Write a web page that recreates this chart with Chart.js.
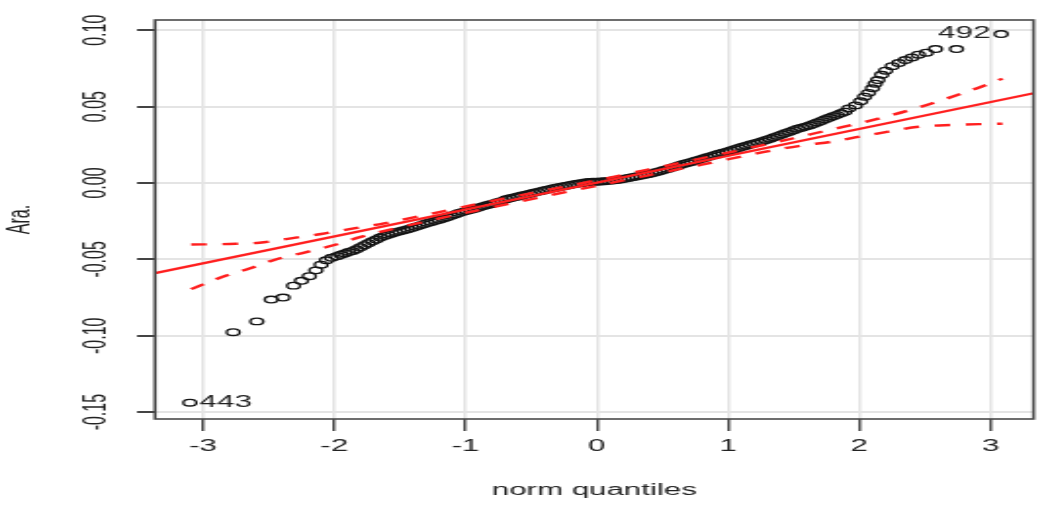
<!DOCTYPE html>
<html>
<head>
<meta charset="utf-8">
<script src="https://cdn.jsdelivr.net/npm/chart.js@4.4.1/dist/chart.umd.min.js"></script>
<style>
  html, body { margin: 0; padding: 0; background: #ffffff; overflow: hidden; }
  #c { display: block; width: 1044px !important; height: 520px !important; }
</style>
</head>
<body>
<canvas id="c" width="534" height="520" style="width:1044px;height:520px;"></canvas>
<script>
// ---- data ----
const xTicks = [-3, -2, -1, 0, 1, 2, 3];
const xTickLabels = ["-3", "-2", "-1", "0", "1", "2", "3"];
const yTicks = [-0.15, -0.10, -0.05, 0.00, 0.05, 0.10];
const yTickLabels = ["-0.15", "-0.10", "-0.05", "0.00", "0.05", "0.10"];
const xTitle = "norm quantiles";
const yTitle = "Ara.";

// sample points (theoretical quantile, observed value)
const qx = [
  -3.10, -2.77, -2.59, -2.48, -2.39, -2.31, -2.25, -2.19, -2.14, -2.10,
  -2.06, -2.02, -1.98, -1.95, -1.92, -1.89, -1.86, -1.83, -1.80, -1.77,
  -1.74, -1.71, -1.68, -1.65, -1.62, -1.59, -1.56, -1.53, -1.50, -1.47,
  -1.44, -1.41, -1.38, -1.35, -1.32, -1.29, -1.26, -1.23, -1.20, -1.17,
  -1.14, -1.11, -1.08, -1.05, -1.02, -0.99, -0.96, -0.93, -0.90, -0.87,
  -0.84, -0.81, -0.78, -0.75, -0.72, -0.69, -0.66, -0.63, -0.60, -0.57,
  -0.54, -0.51, -0.48, -0.45, -0.42, -0.39, -0.36, -0.33, -0.30, -0.27,
  -0.24, -0.21, -0.18, -0.15, -0.12, -0.09, -0.06, -0.03, 0.00, 0.03,
  0.06, 0.09, 0.12, 0.15, 0.18, 0.21, 0.24, 0.27, 0.30, 0.33,
  0.36, 0.39, 0.42, 0.45, 0.48, 0.51, 0.54, 0.57, 0.60, 0.63,
  0.66, 0.69, 0.72, 0.75, 0.78, 0.81, 0.84, 0.87, 0.90, 0.93,
  0.96, 0.99, 1.02, 1.05, 1.08, 1.11, 1.14, 1.17, 1.20, 1.23,
  1.26, 1.29, 1.32, 1.35, 1.38, 1.41, 1.44, 1.47, 1.50, 1.53,
  1.56, 1.59, 1.62, 1.65, 1.68, 1.71, 1.74, 1.77, 1.80, 1.83,
  1.86, 1.89, 1.92, 1.97, 2.01, 2.04, 2.07, 2.10, 2.12, 2.14,
  2.17, 2.20, 2.25, 2.30, 2.35, 2.40, 2.45, 2.51, 2.58, 2.74,
  3.08
];
const qy = [
  -0.1438, -0.0977, -0.0906, -0.0763, -0.0750, -0.0672, -0.0640, -0.0610, -0.0572, -0.0535,
  -0.0506, -0.0490, -0.0479, -0.0470, -0.0461, -0.0452, -0.0445, -0.0434, -0.0420, -0.0407,
  -0.0394, -0.0382, -0.0370, -0.0357, -0.0347, -0.0339, -0.0330, -0.0323, -0.0316, -0.0310,
  -0.0303, -0.0295, -0.0287, -0.0279, -0.0270, -0.0262, -0.0255, -0.0248, -0.0241, -0.0233,
  -0.0224, -0.0215, -0.0206, -0.0197, -0.0189, -0.0182, -0.0175, -0.0168, -0.0160, -0.0153,
  -0.0146, -0.0139, -0.0132, -0.0125, -0.0117, -0.0107, -0.0100, -0.0094, -0.0088, -0.0082,
  -0.0076, -0.0070, -0.0064, -0.0058, -0.0052, -0.0046, -0.0040, -0.0034, -0.0029, -0.0024,
  -0.0019, -0.0014, -0.0009, -0.0005, -0.0001, 0.0003, 0.0006, 0.0008, 0.0008, 0.0010,
  0.0012, 0.0014, 0.0016, 0.0019, 0.0023, 0.0028, 0.0033, 0.0038, 0.0043, 0.0048,
  0.0053, 0.0058, 0.0063, 0.0070, 0.0077, 0.0085, 0.0092, 0.0100, 0.0108, 0.0116,
  0.0124, 0.0131, 0.0138, 0.0146, 0.0153, 0.0161, 0.0168, 0.0176, 0.0183, 0.0191,
  0.0198, 0.0205, 0.0213, 0.0221, 0.0229, 0.0237, 0.0244, 0.0252, 0.0259, 0.0266,
  0.0273, 0.0281, 0.0290, 0.0299, 0.0308, 0.0318, 0.0327, 0.0336, 0.0346, 0.0355,
  0.0362, 0.0369, 0.0377, 0.0386, 0.0396, 0.0406, 0.0417, 0.0427, 0.0437, 0.0446,
  0.0456, 0.0467, 0.0488, 0.0508, 0.0535, 0.0565, 0.0590, 0.0620, 0.0650, 0.0674,
  0.0708, 0.0735, 0.0765, 0.0785, 0.0805, 0.0822, 0.0840, 0.0853, 0.0877, 0.0877,
  0.0975
];
// labelled outliers (index into qx/qy)
const outlierNames = ["443", "492"];
const outlierIndex = [0, 160];

// reference line (solid red)
const lineX = [-3.365, 3.327];
const lineY = [-0.0590, 0.0587];

// confidence envelope (dashed red)
const envUpX = [-3.09, -2.80, -2.57, -2.33, -2.10, -1.84, -1.62, -1.20, -0.80, -0.40, 0.00, 0.40, 0.80, 1.20, 1.50, 1.77, 2.00, 2.20, 2.43, 2.63, 2.86, 3.09];
const envUpY = [-0.0403, -0.0399, -0.0391, -0.0362, -0.0334, -0.0296, -0.0264, -0.0190, -0.0118, -0.0050, 0.0018, 0.0090, 0.0162, 0.0236, 0.0293, 0.0347, 0.0391, 0.0434, 0.0489, 0.0543, 0.0609, 0.0683];
const envLoX = [-3.09, -2.86, -2.64, -2.44, -2.22, -2.00, -1.79, -1.59, -1.20, -0.80, -0.40, 0.00, 0.40, 0.80, 1.34, 1.59, 1.79, 2.00, 2.22, 2.45, 2.70, 2.96, 3.09];
const envLoY = [-0.0695, -0.0617, -0.0558, -0.0499, -0.0454, -0.0406, -0.0351, -0.0308, -0.0232, -0.0160, -0.0088, -0.0018, 0.0052, 0.0120, 0.0214, 0.0249, 0.0270, 0.0303, 0.0336, 0.0368, 0.0380, 0.0386, 0.0388];

// axis ranges
const xMin = -3.365, xMax = 3.327;
const yMin = -0.1545, yMax = 0.1067;

// ---- build ----
const toXY = (xs, ys) => xs.map((x, i) => ({ x: x, y: ys[i] }));
const FONT = '"Liberation Sans", Arial, Helvetica, sans-serif';
const RED = '#ff1f1f';

const boxPlugin = {
  id: 'rbox',
  afterDraw(chart) {
    const { ctx, chartArea: a } = chart;
    ctx.save();
    ctx.strokeStyle = '#4a4a4a';
    ctx.lineWidth = 1.6;
    ctx.strokeRect(a.left, a.top, a.right - a.left, a.bottom - a.top);
    ctx.restore();
  }
};

const labelPlugin = {
  id: 'outlierLabels',
  afterDatasetsDraw(chart) {
    const meta = chart.getDatasetMeta(3);
    const ctx = chart.ctx;
    ctx.save();
    ctx.font = '16px ' + FONT;
    ctx.fillStyle = '#222';
    ctx.textBaseline = 'middle';
    outlierIndex.forEach((idx, k) => {
      const el = meta.data[idx];
      if (!el) return;
      if (qx[idx] > 0) {
        ctx.textAlign = 'right';
        ctx.fillText(outlierNames[k], el.x - 5.5, el.y);
      } else {
        ctx.textAlign = 'left';
        ctx.fillText(outlierNames[k], el.x + 5, el.y);
      }
    });
    ctx.restore();
  }
};

new Chart(document.getElementById('c'), {
  type: 'scatter',
  data: {
    datasets: [
      {
        type: 'line', label: 'line', data: toXY(lineX, lineY),
        borderColor: RED, borderWidth: 2.2, pointRadius: 0, fill: false, tension: 0, order: 1
      },
      {
        type: 'line', label: 'upper', data: toXY(envUpX, envUpY),
        borderColor: RED, borderWidth: 2.4, borderDash: [8, 8], pointRadius: 0, fill: false,
        cubicInterpolationMode: 'monotone', order: 1
      },
      {
        type: 'line', label: 'lower', data: toXY(envLoX, envLoY),
        borderColor: RED, borderWidth: 2.4, borderDash: [8, 8], pointRadius: 0, fill: false,
        cubicInterpolationMode: 'monotone', order: 1
      },
      {
        type: 'scatter', label: 'Ara.', data: toXY(qx, qy),
        pointStyle: 'circle', pointRadius: 3.3, pointBorderWidth: 1.35,
        pointBorderColor: '#151515', pointBackgroundColor: 'rgba(0,0,0,0)', order: 3
      }
    ]
  },
  options: {
    responsive: false,
    maintainAspectRatio: false,
    animation: false,
    devicePixelRatio: 1,
    layout: { padding: { top: 20, right: 4.6, bottom: 0, left: 0 } },
    plugins: { legend: { display: false }, tooltip: { enabled: false } },
    scales: {
      x: {
        type: 'linear', position: 'bottom', min: xMin, max: xMax,
        afterBuildTicks: (s) => { s.ticks = xTicks.map(v => ({ value: v })); },
        afterFit: (s) => { s.height = 101; },
        ticks: {
          autoSkip: false, minRotation: 0, maxRotation: 0, padding: 6,
          color: '#222', font: { family: FONT, size: 16 },
          callback: (v) => { const i = xTicks.indexOf(v); return i >= 0 ? xTickLabels[i] : ''; }
        },
        grid: { color: '#e4e4e4', lineWidth: 1.5, drawTicks: true, tickLength: 12, tickColor: '#444', tickWidth: 1.4 },
        border: { display: false },
        title: { display: true, text: xTitle, color: '#222', font: { family: FONT, size: 16 }, padding: { top: 0, bottom: 20 } }
      },
      y: {
        type: 'linear', position: 'left', min: yMin, max: yMax,
        afterBuildTicks: (s) => { s.ticks = yTicks.map(v => ({ value: v })); },
        afterFit: (s) => { s.width = 79.3; },
        ticks: {
          autoSkip: false, minRotation: 90, maxRotation: 90, crossAlign: 'center', padding: 2.3,
          color: '#222', font: { family: FONT, size: 16 },
          callback: (v) => { const i = yTicks.findIndex(t => Math.abs(t - v) < 1e-9); return i >= 0 ? yTickLabels[i] : ''; }
        },
        grid: { color: '#e4e4e4', lineWidth: 2, drawTicks: true, tickLength: 9.2, tickColor: '#444', tickWidth: 2 },
        border: { display: false },
        title: { display: true, text: yTitle, color: '#222', font: { family: FONT, size: 16 }, padding: { top: 0.6, bottom: 0 } }
      }
    }
  },
  plugins: [boxPlugin, labelPlugin]
});
</script>
</body>
</html>
